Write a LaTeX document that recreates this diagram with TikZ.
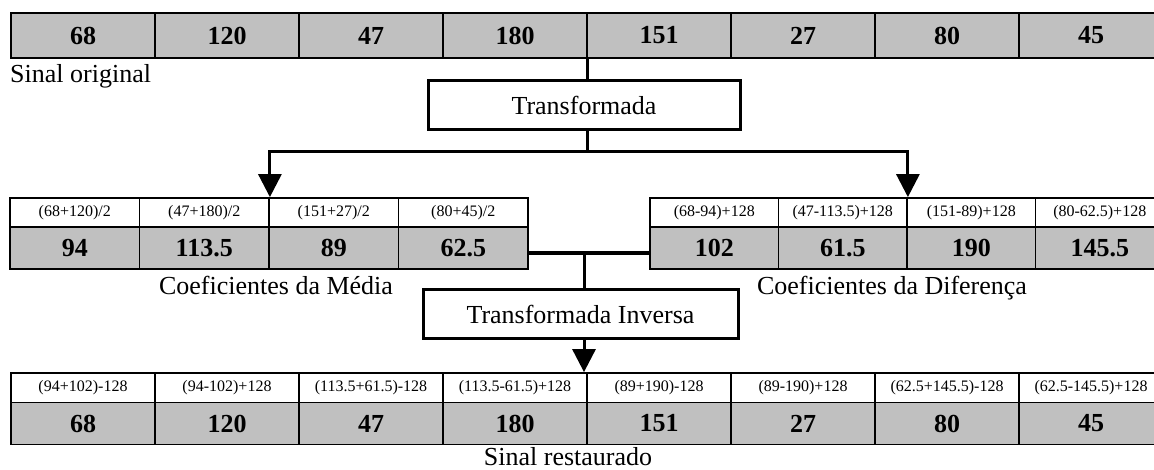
\documentclass[tikz,border=0pt]{standalone}
\usepackage{fontspec}
\setmainfont{Liberation Serif}
\usetikzlibrary{arrows.meta}
\definecolor{cellgray}{HTML}{C0C0C0}
\newcommand{\bigtxt}{\fontsize{26}{30}\selectfont}
\newcommand{\smalltxt}{\fontsize{16}{19}\selectfont}
\tikzset{
  valcell/.style={draw, line width=1.8pt, fill=cellgray, inner sep=0pt, font=\bigtxt\bfseries},
  fcell/.style={draw, line width=1.8pt, fill=white, inner sep=0pt, font=\smalltxt},
  opbox/.style={draw, line width=3pt, fill=white, inner sep=0pt, font=\bigtxt},
  conn/.style={line width=3pt},
  arr/.style={conn, -{Triangle[width=23pt,length=23pt]}},
  lbl/.style={inner sep=0pt, font=\bigtxt}
}
\begin{document}
\begin{tikzpicture}[x=1pt, y=-1pt]
    \path[use as bounding box] (0,0) rectangle (1154,470);
    \clip (0,0) rectangle (1154,470);
    \def\cw{144}
    \def\mw{129.5}
    \def\dw{128.5}
    \foreach \v [count=\i] in {68,120,47,180,151,27,80,45}
      \node[valcell, minimum width=\cw, minimum height=45.6] (o\i) at ({83+\cw*(\i-1)},35.5) {\v};
    \node[lbl, anchor=base west] (lorig) at (10,83) {Sinal original};
    \node[opbox, minimum width=312, minimum height=49] (tr) at (584,105.5) {Transformada};
    \foreach \f [count=\i] in {(68+120)/2,(47+180)/2,(151+27)/2,(80+45)/2}
      \node[fcell, minimum width=\mw, minimum height=29] (mf\i) at ({74.75+\mw*(\i-1)},212.5) {\f};
    \foreach \v [count=\i] in {94,113.5,89,62.5}
      \node[valcell, minimum width=\mw, minimum height=42] (mv\i) at ({74.75+\mw*(\i-1)},248) {\v};
    \foreach \f [count=\i] in {(68-94)+128,(47-113.5)+128,(151-89)+128,(80-62.5)+128}
      \node[fcell, minimum width=\dw, minimum height=29] (df\i) at ({714.25+\dw*(\i-1)},212.5) {\f};
    \foreach \v [count=\i] in {102,61.5,190,145.5}
      \node[valcell, minimum width=\dw, minimum height=42] (dv\i) at ({714.25+\dw*(\i-1)},248) {\v};
    \node[lbl, anchor=base] (lmed) at (276,295) {Coeficientes da Média};
    \node[lbl, anchor=base] (ldif) at (892,295) {Coeficientes da Diferença};
    \node[opbox, minimum width=315, minimum height=49] (ti) at (580.5,314.5) {Transformada Inversa};
    \foreach \f [count=\i] in {(94+102)-128,(94-102)+128,(113.5+61.5)-128,(113.5-61.5)+128,(89+190)-128,(89-190)+128,(62.5+145.5)-128,(62.5-145.5)+128}
      \node[fcell, minimum width=\cw, minimum height=29.5] (rf\i) at ({83+\cw*(\i-1)},387.75) {\f};
    \foreach \v [count=\i] in {68,120,47,180,151,27,80,45}
      \node[valcell, minimum width=\cw, minimum height=42] (rv\i) at ({83+\cw*(\i-1)},423.5) {\v};
    \node[lbl, anchor=base] (lrest) at (568,465) {Sinal restaurado};
    \coordinate (jt) at (587,152);
    \coordinate (jb) at (584,253);
    \draw[conn] (o4.south east) -- (tr.north -| o4.south east);
    \draw[conn] (tr.south -| jt) -- (jt);
    \draw[arr] (jt) -| (mf2.north east);
    \draw[arr] (jt) -| (df2.north east);
    \draw[line width=4pt] (mv4.east |- jb) -- (dv1.west |- jb);
    \draw[conn] (jb) -- (ti.north -| jb);
    \draw[arr] (ti.south -| jb) -- (jb |- rf4.north);
  \end{tikzpicture}
\end{document}
